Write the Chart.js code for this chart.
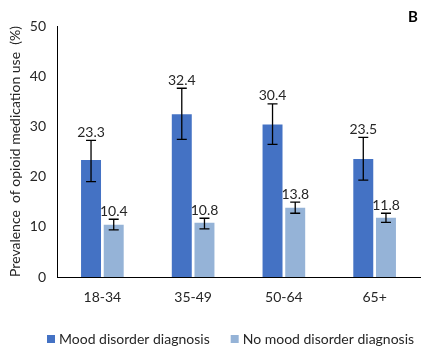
<!DOCTYPE html>
<html><head><meta charset="utf-8">
<script src="https://cdn.jsdelivr.net/npm/chart.js@4/dist/chart.umd.min.js"></script>
<style>html,body{margin:0;padding:0;background:#fff}#wrap{width:427px;height:353px;position:relative}</style>
</head><body><div id="wrap"><canvas id="c" width="427" height="353"></canvas></div>
<script>
const categories = ["18-34", "35-49", "50-64", "65+"];
const moodValues = [23.3, 32.4, 30.4, 23.5];
const noMoodValues = [10.4, 10.8, 13.8, 11.8];
const moodLower = [19.0, 27.4, 26.4, 19.3];
const moodUpper = [27.2, 37.6, 34.5, 27.8];
const noMoodLower = [9.4, 9.6, 12.7, 10.9];
const noMoodUpper = [11.5, 11.7, 14.9, 12.7];
const yTicks = [0, 10, 20, 30, 40, 50];

const FONT = "Lato, sans-serif";
const TXT = "#262626";

const errorPlugin = {
  id: 'errs',
  afterDatasetsDraw(chart) {
    const ctx = chart.ctx, y = chart.scales.y;
    const errs = [[moodLower, moodUpper], [noMoodLower, noMoodUpper]];
    const vals = [moodValues, noMoodValues];
    chart.data.datasets.forEach((ds, di) => {
      const meta = chart.getDatasetMeta(di);
      meta.data.forEach((bar, i) => {
        const x = bar.x;
        const yl = y.getPixelForValue(errs[di][0][i]);
        const yu = y.getPixelForValue(errs[di][1][i]);
        ctx.save();
        ctx.strokeStyle = '#000';
        ctx.lineWidth = 1.3;
        ctx.beginPath();
        ctx.moveTo(x, yl); ctx.lineTo(x, yu);
        ctx.moveTo(x - 5, yl); ctx.lineTo(x + 5, yl);
        ctx.moveTo(x - 5, yu); ctx.lineTo(x + 5, yu);
        ctx.stroke();
        ctx.fillStyle = TXT;
        ctx.font = "14px " + FONT;
        ctx.textAlign = 'center';
        ctx.textBaseline = 'middle';
        ctx.fillText(vals[di][i].toFixed(1), x, yu - 8);
        ctx.restore();
      });
    });
  },
  afterDraw(chart) {
    const ctx = chart.ctx;
    ctx.save();
    ctx.fillStyle = '#000';
    ctx.font = "bold 15px " + FONT;
    ctx.textAlign = 'center';
    ctx.textBaseline = 'middle';
    ctx.fillText('B', 413, 17);
    ctx.font = "14px " + FONT;
    ctx.textAlign = 'left';
    let x = 47;
    const yc = 339;
    chart.data.datasets.forEach((ds, di) => {
      ctx.fillStyle = ds.backgroundColor;
      ctx.fillRect(x, yc - 4, 8, 8);
      ctx.fillStyle = TXT;
      ctx.fillText(ds.label, x + 12, yc);
      x += 12 + ctx.measureText(ds.label).width + 21;
    });
    ctx.restore();
  }
};

new Chart(document.getElementById('c'), {
  type: 'bar',
  data: {
    labels: categories,
    datasets: [
      { label: 'Mood disorder diagnosis', data: moodValues, backgroundColor: '#4472C4', categoryPercentage: 0.5, barPercentage: 0.88 },
      { label: 'No mood disorder diagnosis', data: noMoodValues, backgroundColor: '#95B3D7', categoryPercentage: 0.5, barPercentage: 0.88 }
    ]
  },
  options: {
    responsive: false,
    animation: false,
    layout: { padding: { top: 26, right: 7, left: 5, bottom: 0 } },
    plugins: {
      legend: { display: false },
      tooltip: { enabled: false }
    },
    scales: {
      x: {
        grid: { display: false, drawTicks: false },
        border: { display: true, color: '#000', width: 1 },
        ticks: { color: TXT, font: { size: 14, family: FONT }, padding: 12 },
        afterFit(s) { s.height = 76; }
      },
      y: {
        min: 0, max: 50,
        afterBuildTicks(s) { s.ticks = yTicks.map(v => ({ value: v })); },
        grid: { display: false, drawTicks: false },
        border: { display: true, color: '#000', width: 1 },
        ticks: { color: TXT, font: { size: 14, family: FONT }, padding: 11 },
        title: { display: true, text: 'Prevalence  of opioid medication use  (%)', color: TXT, font: { size: 14, family: FONT }, padding: 2 },
        afterFit(s) { s.width = 52; }
      }
    }
  },
  plugins: [errorPlugin]
});
</script></body></html>
